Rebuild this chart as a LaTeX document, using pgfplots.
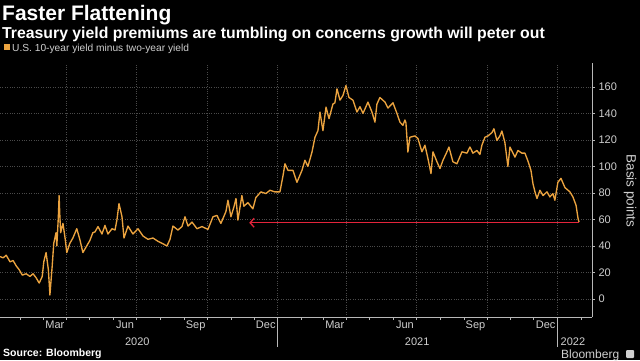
\documentclass[border=0pt]{standalone}
\usepackage{pgfplots}
\pgfplotsset{compat=1.18}
\usepackage{fontspec}
\setmainfont{Liberation Sans}
\usetikzlibrary{arrows.meta}
\definecolor{series}{HTML}{EBA33F}
\definecolor{arrowred}{HTML}{E3243B}
\definecolor{gridc}{HTML}{4A4A4A}
\definecolor{axisc}{HTML}{B8B8B8}
\definecolor{labc}{HTML}{CFCFCF}
\begin{document}
\begin{tikzpicture}
\useasboundingbox (0pt,0pt) rectangle (640pt,360pt);
\fill[black] (0pt,0pt) rectangle (640pt,360pt);
\node[anchor=base west, inner sep=0pt, white, font=\fontsize{21}{25}\selectfont\bfseries] at (2pt,340pt) {Faster Flattening};
\node[anchor=base west, inner sep=0pt, white, font=\fontsize{15.8}{19}\selectfont\bfseries] at (2pt,322pt) {Treasury yield premiums are tumbling on concerns growth will peter out};
\fill[series] (4pt,310pt) rectangle (10pt,316pt);
\node[anchor=base west, inner sep=0pt, labc, font=\fontsize{10.2}{12}\selectfont] at (12pt,309pt) {U.S. 10-year yield minus two-year yield};
\begin{axis}[
  at={(0pt,43pt)}, anchor=south west,
  scale only axis, width=592pt, height=254pt,
  xmin=3.9, xmax=776, ymin=-13.6, ymax=178,
  axis x line*=bottom, axis y line*=right,
  axis line style={-, axisc, line width=0.6pt},
  xtick={91,182,274,366,456,547,639,731}, xticklabels={},
  minor xtick={31,60,121,152,213,244,305,335,397,425,486,517,578,609,670,700,762},
  extra x ticks={75.5,167,259,350.5,440.5,532,624,715.5},
  extra x tick labels={Mar,Jun,Sep,Dec,Mar,Jun,Sep,Dec},
  extra x tick style={major tick length=0pt, grid=none},
  ytick={0,20,...,160},
  tick align=outside, major tick length=3pt, minor tick length=3pt,
  tick style={axisc, line width=0.6pt},
  xmajorgrids, ymajorgrids,
  major grid style={gridc, dotted, line width=0.7pt},
  ticklabel style={labc, font=\fontsize{11}{13}\selectfont},
  /pgf/number format/assume math mode=true,
  clip=false,
]
\addplot[series, line width=1.35pt, line join=round] table {
day value
4 32
8 31
12 33
17 28
21 29
25 25
29 22
33 18
38 19
43 17
47 19
51 16
55 12
59 17
61 28
64 35
67 22
69 3
72 25
74 42
77 50
78 40
80 62
81 78
82 62
83 50
86 57
89 45
91 35
95 42
99 46
104 53
108 45
112 35
116 39
121 44
125 50
127.8 50.6
131.7 54.6
136.9 49
140.8 55.5
144.7 49
150 53
153.9 52
156.5 60
159.1 72
163 62
165.6 46
170.8 55
177.3 49
183.9 53
190.4 47.5
196.9 45
203.4 46
209.9 43.5
215.2 42
221.7 40
225.6 45
229.5 55
236 52
241.2 54.6
245.2 62
249.1 55
254.3 58
260.8 53
267.3 54.6
275.1 52.5
281.7 62
286.9 63
292 57
298.6 66
301.2 74.5
305.1 62
309 69.5
311.7 75.8
314.2 59.5
319.4 78
322 70
327.2 72.7
333.7 68
337.6 76.5
344.2 80.8
350.7 79.5
356 82
362.5 80.8
369 80.8
373 93
375.6 102
379.5 97
386 97
391.2 88
397.7 97
401.6 104.6
405.5 100
410.8 110.8
414.7 122
418.6 127
421.2 141
425.1 127
429.1 144.7
433 136
438.1 147
440.7 148
443.4 158.5
447.3 150
451.2 153.5
455.1 161
459 152
464.2 150
469.4 141
473.4 145
477.3 140
483.8 148.5
489 141
492.9 133.4
495.5 147
499.4 152
506 148.5
509.9 144
516.4 148
521.6 140
525.5 133.4
529.4 131
532 135
533.3 133
535.9 110.8
538.5 122
545.1 123
549 121
554.2 111
558.1 116
562 106
566 94.6
568.6 111
573.8 103.5
577.7 98.4
581.6 104.6
586.8 111
589.4 114.6
594.6 103.5
599.8 102
606.4 111
612.9 110
616.8 114.6
620.7 110
625.9 112
629.8 109
632.4 116
636.4 122
640.3 123
645.5 125.5
648.1 128.4
652 119.6
655.9 123
658.5 126.7
662.4 118
666.3 100
669 114.6
675.5 107
679.4 112
684.6 110
688.5 110
692.5 104
696.4 97
699 87
701.6 80.8
704.2 75.8
708.1 82
712.1 78
717.3 80.8
721.1 77
725 79.5
727.6 74.5
731.5 88
735.5 91
740.7 84
747.2 80.8
751.1 77
755.2 70.7
757.8 60.7
759.1 58
};
\addplot[arrowred, line width=1.3pt, {Straight Barb[length=4pt,width=9pt]}-] coordinates {(329,57.5) (759,57.5)};
\draw[axisc, line width=0.6pt] (axis cs:366,-13.6) -- ++(0pt,-30pt);
\draw[axisc, line width=0.6pt] (axis cs:731,-13.6) -- ++(0pt,-30pt);
\node[labc, font=\fontsize{11}{13}\selectfont, anchor=base, yshift=-28pt] at (axis cs:183,-13.6) {2020};
\node[labc, font=\fontsize{11}{13}\selectfont, anchor=base, yshift=-28pt] at (axis cs:548,-13.6) {2021};
\node[labc, font=\fontsize{11}{13}\selectfont, anchor=base west, inner sep=0pt, xshift=3pt, yshift=-28pt] at (axis cs:731,-13.6) {2022};
\end{axis}
\node[anchor=center, rotate=-90, labc, font=\fontsize{13.5}{16}\selectfont] at (630pt,169pt) {Basis points};
\node[anchor=base west, inner sep=0pt, white, font=\fontsize{10.5}{12}\selectfont\bfseries] at (3pt,4pt) {Source: Bloomberg};
\node[anchor=base west, inner sep=0pt, labc, font=\fontsize{12}{14}\selectfont] at (561pt,1.5pt) {Bloomberg};
\fill[labc, rounded corners=1pt] (626pt,2pt) rectangle (634pt,10pt);
\end{tikzpicture}
\end{document}
